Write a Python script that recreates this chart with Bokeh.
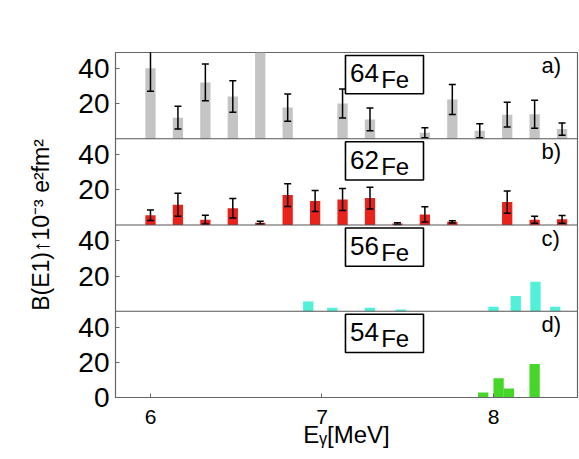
from bokeh.plotting import figure
from bokeh.models import Range1d, FixedTicker, Span, Label, BoxAnnotation
from bokeh.embed import file_html
from bokeh.resources import INLINE

# ---------------- data ----------------
isotopes = ["64", "62", "56", "54"]
panel_tags = ["a)", "b)", "c)", "d)"]

E_64 = [6.00, 6.16, 6.32, 6.48, 6.64, 6.80, 7.12, 7.28, 7.60, 7.76, 7.92, 8.08, 8.24, 8.40]
B_64 = [40.0, 12.0, 32.0, 24.0, 60.0, 17.7, 20.0, 11.0, 3.4, 22.3, 4.5, 13.7, 13.9, 5.5]
dB_64 = [13.0, 6.5, 10.4, 9.0, 0.0, 7.7, 8.2, 6.4, 2.8, 8.5, 4.0, 7.0, 8.0, 3.5]

E_62 = [6.00, 6.16, 6.32, 6.48, 6.64, 6.80, 6.96, 7.12, 7.28, 7.44, 7.60, 7.76, 8.08, 8.24, 8.40]
B_62 = [5.5, 11.5, 3.0, 9.5, 1.3, 17.0, 13.6, 14.5, 15.3, 0.8, 6.0, 1.8, 13.0, 3.0, 3.2]
dB_62 = [3.0, 6.5, 2.5, 5.5, 0.8, 6.5, 6.0, 6.2, 6.2, 0.5, 4.3, 0.6, 6.3, 2.0, 2.2]

E_56 = [6.92, 7.06, 7.28, 7.46, 8.00, 8.13, 8.245, 8.36]
B_56 = [5.5, 2.0, 2.0, 1.0, 2.5, 8.6, 16.7, 2.5]

E_54 = [7.94, 8.03, 8.09, 8.24]
B_54 = [2.8, 10.9, 5.1, 19.0]

x_ticks = [6, 7, 8]
y_ticks = [20, 40]

# ---------------- styling ----------------
FONT = "Liberation Sans"
H = 49.0          # height of one panel in data units
BAR_W = 0.06
colors = ["#c4c4c4", "#e8231c", "#52efd9", "#46d62a"]

p = figure(frame_width=462, frame_height=345,
           min_border_left=115, min_border_right=2,
           min_border_top=52, min_border_bottom=62,
           x_range=Range1d(5.796, 8.49), y_range=Range1d(0, 4 * H),
           output_backend="svg", toolbar_location=None,
           background_fill_color="white", border_fill_color="white")
p.grid.visible = False
p.outline_line_color = "#666666"
p.outline_line_width = 1.2

series = [
    (E_64, B_64, dB_64),
    (E_62, B_62, dB_62),
    (E_56, B_56, None),
    (E_54, B_54, None),
]

tick_vals = [0.0]
overrides = {0.0: "0"}
for k, (E, B, dB) in enumerate(series):
    off = (3 - k) * H
    p.vbar(x=E, bottom=off, top=[off + b for b in B], width=BAR_W,
           fill_color=colors[k], line_color=None)
    if dB is not None:
        xe = [e for e, d in zip(E, dB) if d > 0]
        lo = [off + max(b - d, 0) for b, d in zip(B, dB) if d > 0]
        hi = [off + b + d for b, d in zip(B, dB) if d > 0]
        p.segment(x0=xe, y0=lo, x1=xe, y1=hi, line_color="black", line_width=1.5)
        p.scatter(x=xe, y=lo, marker="dash", size=7, line_color="black", line_width=1.5)
        p.scatter(x=xe, y=hi, marker="dash", size=7, line_color="black", line_width=1.5)
    for t in y_ticks:
        tick_vals.append(off + t)
        overrides[off + t] = str(t)
    if k > 0:
        p.add_layout(Span(location=off + H, dimension="width",
                          line_color="#555555", line_width=1.2))
    # boxed isotope label
    p.add_layout(BoxAnnotation(left=7.137, right=7.592, bottom=off + 25.6, top=off + 47.3,
                               fill_color=None, fill_alpha=0, line_color="black",
                               line_alpha=1.0, line_width=1.6))
    p.add_layout(Label(x=7.163, y=off + 37.2, text=isotopes[k], text_font=FONT,
                       text_font_size="26px", text_color="black",
                       text_baseline="alphabetic"))
    p.add_layout(Label(x=7.345, y=off + 33.4, text="Fe", text_font=FONT,
                       text_font_size="24px", text_color="black",
                       text_baseline="alphabetic"))
    p.add_layout(Label(x=8.28, y=off + 41.5, text=panel_tags[k], text_font=FONT,
                       text_font_size="22px", text_color="black",
                       text_baseline="alphabetic"))

# axes
p.yaxis.ticker = FixedTicker(ticks=tick_vals)
p.yaxis.major_label_overrides = overrides
p.yaxis.major_label_text_font = FONT
p.yaxis.major_label_text_font_size = "28px"
p.yaxis.major_label_text_color = "black"
p.yaxis.major_label_standoff = 6
p.yaxis.major_tick_in = 4
p.yaxis.major_tick_out = 0
p.yaxis.minor_tick_line_color = None
p.yaxis.axis_line_color = "#666666"
p.yaxis.major_tick_line_color = "#666666"
p.yaxis.axis_label = "B(E1)↑10⁻³ e²fm²"
p.yaxis.axis_label_text_font = FONT
p.yaxis.axis_label_text_font_style = "normal"
p.yaxis.axis_label_text_font_size = "23px"
p.yaxis.axis_label_text_color = "black"
p.yaxis.axis_label_standoff = 21

p.xaxis.ticker = FixedTicker(ticks=x_ticks)
p.xaxis.major_label_text_font = FONT
p.xaxis.major_label_text_font_size = "21px"
p.xaxis.major_label_text_color = "black"
p.xaxis.major_label_standoff = 12
p.xaxis.major_tick_in = 4
p.xaxis.major_tick_out = 0
p.xaxis.minor_tick_line_color = None
p.xaxis.axis_line_color = "#666666"
p.xaxis.major_tick_line_color = "#666666"
p.xaxis.axis_label = "Eᵧ[MeV]"
p.xaxis.axis_label_text_font = FONT
p.xaxis.axis_label_text_font_style = "normal"
p.xaxis.axis_label_text_font_size = "24px"
p.xaxis.axis_label_text_color = "black"
p.xaxis.axis_label_standoff = -6

open("out.html", "w").write(file_html(p, INLINE))
